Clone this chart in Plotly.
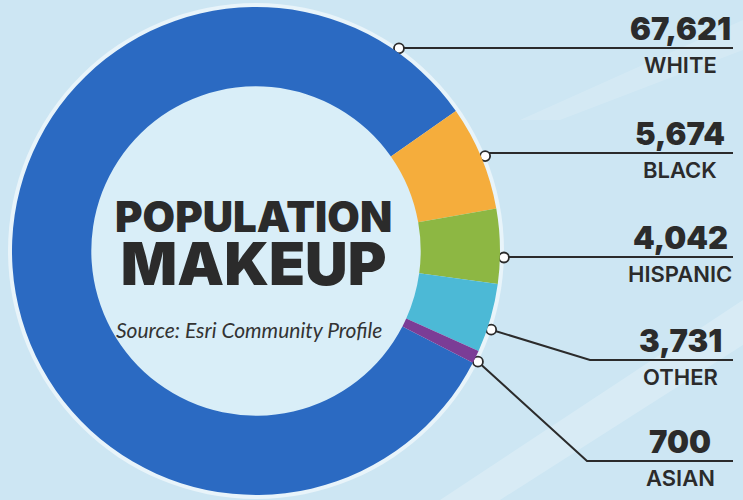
import math
import plotly.graph_objects as go

# ---- data ----
categories = ["WHITE", "BLACK", "HISPANIC", "OTHER", "ASIAN"]
values = [67621, 5674, 4042, 3731, 700]
value_labels = ["67,621", "5,674", "4,042", "3,731", "700"]
colors = ["#2b6ac2", "#f5ad3c", "#8db743", "#4cb9d6", "#7b3d96"]

title_line1 = "POPULATION"
title_line2 = "MAKEUP"
source_text = "Source: Esri Community Profile"

# ---- layout constants (pixels) ----
W, H = 743, 500
CX, CY, R_OUT = 256, 251, 244
HOLE = 0.675
BLACK_START = 55.0           # degrees clockwise from 12 o'clock where the first minority slice starts
anchor_angles = [35.2, 67.5, 91.5, 108.5, 116.5]
line_y = [48, 153, 257, 360, 461]
elbow_x = [None, None, None, 590, 587]
LINE_END = 733
LABEL_X = 680
INK = "#2b2b2b"
HEAVY = "Inter"

total = sum(values)
white_deg = 360.0 * values[0] / total
rotation = (BLACK_START - white_deg) % 360

fig = go.Figure()

fig.add_trace(go.Pie(
    labels=categories, values=values, sort=False, direction="clockwise",
    rotation=rotation, hole=HOLE, marker=dict(colors=colors, line=dict(width=0)),
    textinfo="none", hoverinfo="label+value", showlegend=False,
    domain=dict(x=[(CX - R_OUT) / W, (CX + R_OUT) / W],
                y=[(H - CY - R_OUT) / H, (H - CY + R_OUT) / H]),
))

# leader lines + circles
r_anchor = R_OUT + 4
for i, cat in enumerate(categories):
    a = math.radians(anchor_angles[i])
    px = CX + r_anchor * math.sin(a)
    py = CY - r_anchor * math.cos(a)
    ex = elbow_x[i] if elbow_x[i] is not None else px
    fig.add_trace(go.Scatter(
        x=[px, ex, LINE_END], y=[py, line_y[i], line_y[i]], mode="lines",
        line=dict(color=INK, width=2), hoverinfo="skip", showlegend=False,
    ))
    fig.add_trace(go.Scatter(
        x=[px], y=[py], mode="markers",
        marker=dict(size=10, color="white", line=dict(color=INK, width=1.8)),
        hoverinfo="skip", showlegend=False,
    ))
    fig.add_annotation(x=LABEL_X, y=line_y[i] - 20, xref="x", yref="y",
                       text=value_labels[i], showarrow=False,
                       xanchor="center", yanchor="middle",
                       font=dict(family=HEAVY, size=31, color=INK, weight=900))
    fig.add_annotation(x=LABEL_X, y=line_y[i] + 17, xref="x", yref="y",
                       text=cat, showarrow=False,
                       xanchor="center", yanchor="middle",
                       font=dict(family=HEAVY, size=22, color=INK, weight=600))

# center title (one text block, two sizes)
fig.add_annotation(
    x=CX - 3, y=245, xref="x", yref="y",
    text=(f"<span style='font-size:42px'>{title_line1}</span><br>"
          f"<span style='font-size:59px'>{title_line2}</span>"),
    showarrow=False, xanchor="center", yanchor="middle", align="center",
    font=dict(family=HEAVY, size=41, color=INK, weight=900))
fig.add_annotation(x=CX - 7, y=329, xref="x", yref="y", text=f"<i>{source_text}</i>", showarrow=False,
                   xanchor="center", yanchor="middle",
                   font=dict(family="Lato", size=21, color="#333333"))

shapes = [
    # soft light streaks in the background
    dict(type="path", path="M 440 500 L 743 300 L 743 345 L 500 500 Z",
         fillcolor="rgba(255,255,255,0.22)", line=dict(width=0), layer="below", xref="x", yref="y"),
    dict(type="path", path="M 520 120 L 743 20 L 743 50 L 560 120 Z",
         fillcolor="rgba(255,255,255,0.15)", line=dict(width=0), layer="below", xref="x", yref="y"),
    # halo around the ring
    dict(type="circle", xref="x", yref="y", x0=CX - R_OUT - 4, x1=CX + R_OUT + 4,
         y0=CY - R_OUT - 4, y1=CY + R_OUT + 4, fillcolor="rgba(255,255,255,0.55)",
         line=dict(width=0), layer="below"),
    # lighter hole
    dict(type="circle", xref="x", yref="y", x0=CX - R_OUT * HOLE - 2, x1=CX + R_OUT * HOLE + 2,
         y0=CY - R_OUT * HOLE - 2, y1=CY + R_OUT * HOLE + 2, fillcolor="#d9eef8",
         line=dict(width=0), layer="below"),
]

fig.update_layout(
    width=W, height=H, margin=dict(l=0, r=0, t=0, b=0),
    paper_bgcolor="#cde6f3", plot_bgcolor="rgba(0,0,0,0)",
    xaxis=dict(range=[0, W], visible=False, fixedrange=True, domain=[0, 1]),
    yaxis=dict(range=[H, 0], visible=False, fixedrange=True, domain=[0, 1]),
    shapes=shapes, showlegend=False,
)

fig.write_html(
    "out.html",
    config={"displayModeBar": False},
    post_script="document.body.style.margin='0';document.body.style.overflow='hidden';",
)
